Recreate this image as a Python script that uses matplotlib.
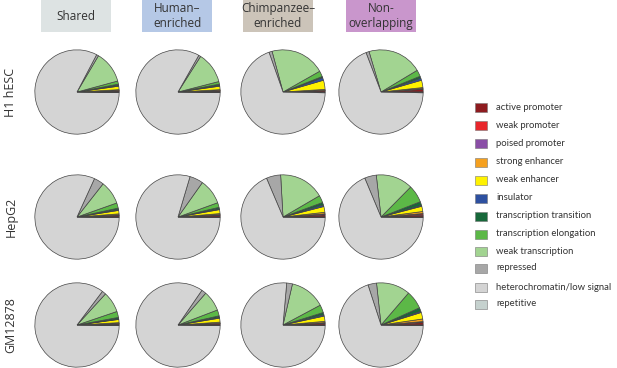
import matplotlib
matplotlib.use("Agg")
import matplotlib.pyplot as plt
from matplotlib.patches import Rectangle

plt.rcParams['font.family'] = ['Open Sans', 'DejaVu Sans']

W, H = 617, 368

states = ["active promoter", "weak promoter", "poised promoter", "strong enhancer",
          "weak enhancer", "insulator", "transcription transition",
          "transcription elongation", "weak transcription", "repressed",
          "heterochromatin/low signal", "repetitive"]
colors = ["#8e1b1f", "#e8262b", "#8a4ea6", "#f5a01e", "#fff200", "#2d50a0",
          "#17683a", "#5cb847", "#a2d491", "#a7a7a7", "#d4d4d4", "#c5d1ce"]

columns = ["Shared", "Human–\nenriched", "Chimpanzee–\nenriched", "Non-\noverlapping"]
col_colors = ["#dde3e3", "#b5c8e6", "#ccc4b9", "#c996cc"]
rows = ["H1 hESC", "HepG2", "GM12878"]

# percent of each state, per cell line (rows) and region set (columns)
h1_shared = [0.4, 0.1, 0.1, 0.3, 1.3, 0.3, 0.5, 1.2, 12.3, 0.8, 82.5, 0.2]
h1_human = [0.4, 0.1, 0.1, 0.3, 1.3, 0.3, 0.5, 1.0, 12.0, 0.8, 83.0, 0.2]
h1_chimp = [0.5, 0.1, 0.1, 0.3, 3.5, 1.0, 0.5, 2.2, 21.0, 1.2, 69.3, 0.3]
h1_non = [1.0, 0.2, 0.1, 0.4, 2.8, 0.8, 0.8, 2.5, 21.0, 1.2, 68.9, 0.3]
hepg2_shared = [0.5, 0.2, 0.1, 0.4, 1.3, 0.3, 0.6, 2.0, 9.0, 3.8, 81.6, 0.2]
hepg2_human = [0.6, 0.2, 0.1, 0.4, 1.5, 0.3, 0.6, 1.8, 9.7, 5.2, 79.4, 0.2]
hepg2_chimp = [0.8, 0.3, 0.1, 0.6, 2.2, 0.6, 1.0, 2.8, 17.5, 5.5, 68.4, 0.2]
hepg2_non = [0.7, 0.5, 0.1, 0.8, 2.0, 0.4, 1.4, 6.7, 14.2, 4.5, 68.5, 0.2]
gm_shared = [0.4, 0.1, 0.1, 0.3, 1.2, 0.2, 0.6, 2.3, 8.0, 1.5, 85.1, 0.2]
gm_human = [0.5, 0.1, 0.1, 0.4, 1.5, 0.3, 0.6, 2.3, 7.8, 1.8, 84.4, 0.2]
gm_chimp = [0.6, 0.2, 0.1, 0.5, 2.0, 0.5, 0.9, 3.0, 13.6, 2.2, 76.2, 0.2]
gm_non = [0.9, 0.3, 0.1, 1.0, 2.5, 0.5, 1.4, 7.0, 13.0, 3.3, 69.8, 0.2]

grid = [[h1_shared, h1_human, h1_chimp, h1_non],
        [hepg2_shared, hepg2_human, hepg2_chimp, hepg2_non],
        [gm_shared, gm_human, gm_chimp, gm_non]]

fig = plt.figure(figsize=(W / 100, H / 100), dpi=100)

def px_axes(x, y, w, h):
    # pixel box (top-left origin) -> figure axes
    return fig.add_axes([x / W, 1 - (y + h) / H, w / W, h / H])

col_x = [77, 178, 283, 381]
row_y = [92, 217, 325]
box_x = [76, 177, 278, 381]
r = 42

# header boxes
for cx, name, c in zip(box_x, columns, col_colors):
    ax = px_axes(cx - 35, 0, 70, 32)
    ax.set_axis_off()
    ax.add_patch(Rectangle((0, 0), 1, 1, transform=ax.transAxes, color=c))
    ax.text(0.5, 0.5, name, ha="center", va="center", fontsize=8.5,
            color="#333333", linespacing=1.15, transform=ax.transAxes)

# row labels
for cy, name in zip(row_y, rows):
    fig.text(11 / W, 1 - cy / H, name, rotation=90, ha="center", va="center",
             fontsize=9, color="#333333")

# pies
for i, cy in enumerate(row_y):
    for j, cx in enumerate(col_x):
        ax = px_axes(cx - r - 1, cy - r - 1, 2 * r + 2, 2 * r + 2)
        ax.pie(grid[i][j], colors=colors, startangle=0, counterclock=True,
               radius=1, wedgeprops=dict(edgecolor="#444444", linewidth=0.5))
        ax.set_xlim(-1.02, 1.02)
        ax.set_ylim(-1.02, 1.02)

# legend
lax = px_axes(470, 97, 147, 217)
lax.set_axis_off()
lax.set_xlim(0, 147)
lax.set_ylim(217, 0)
leg_y = [10, 28, 46, 65, 83, 101, 119, 137, 154, 171, 190, 207]
for yy, name, c in zip(leg_y, states, colors):
    lax.add_patch(Rectangle((5, yy - 4.5), 12, 9, facecolor=c,
                            edgecolor="#777777", linewidth=0.4))
    lax.text(26, yy, name, va="center", ha="left", fontsize=6.8,
             color="#333333", family=["Lato", "DejaVu Sans"])

fig.savefig("out.png", dpi=100)
